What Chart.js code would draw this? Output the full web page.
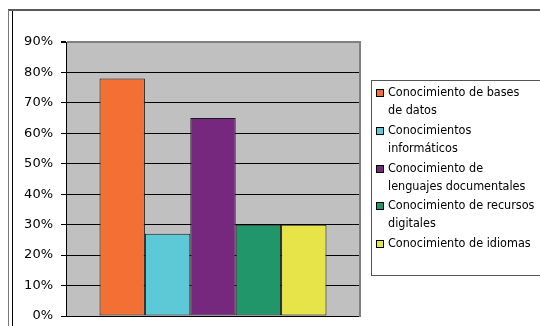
<!DOCTYPE html>
<html>
<head>
<meta charset="utf-8">
<style>
  html, body { margin: 0; padding: 0; background: #fff; }
  #wrap { position: relative; width: 540px; height: 326px; overflow: hidden; }
  canvas { display: block; }
</style>
<script src="https://cdn.jsdelivr.net/npm/chart.js@4/dist/chart.umd.min.js"></script>
</head>
<body>
<div id="wrap"><canvas id="chart" width="540" height="326"></canvas></div>
<script>
// One category, five competences shown side by side
const categories = [''];

const seriesNames = [
  ['Conocimiento de bases', 'de datos'],
  ['Conocimientos', 'informáticos'],
  ['Conocimiento de', 'lenguajes documentales'],
  ['Conocimiento de recursos', 'digitales'],
  ['Conocimiento de idiomas']
];

const basesDatos = [0.78];
const informaticos = [0.27];
const lenguajesDoc = [0.65];
const recursosDig = [0.30];
const idiomas = [0.30];

const seriesValues = [basesDatos, informaticos, lenguajesDoc, recursosDig, idiomas];
const seriesColors = ['#F37034', '#5DC8D6', '#76287F', '#21966B', '#E6E449'];

const tickLabels = ['0%', '10%', '20%', '30%', '40%', '50%', '60%', '70%', '80%', '90%'];

const FONT_TICKS = "Tahoma, 'DejaVu Sans', sans-serif";
const FONT_LEGEND = "12.5px Tahoma, 'DejaVu Sans Condensed', 'DejaVu Sans', sans-serif";

// Outer chart frame and the plot-area background
const framePlugin = {
  id: 'frame',
  beforeDraw(chart) {
    const ctx = chart.ctx;
    const a = chart.chartArea;
    ctx.save();
    ctx.fillStyle = '#C0C0C0';
    ctx.fillRect(a.left, a.top, a.right - a.left, a.bottom - a.top);
    ctx.strokeStyle = '#5a5a5a';
    ctx.lineWidth = 2;
    ctx.beginPath();
    ctx.moveTo(8, 10); ctx.lineTo(540, 10);
    ctx.stroke();
    ctx.lineWidth = 1;
    ctx.strokeStyle = '#777';
    ctx.beginPath();
    ctx.moveTo(8.5, 10); ctx.lineTo(8.5, 326);
    ctx.stroke();
    ctx.strokeStyle = '#000';
    ctx.beginPath();
    ctx.moveTo(12.5, 11); ctx.lineTo(12.5, 326);
    ctx.stroke();
    ctx.restore();
  },
  afterDatasetsDraw(chart) {
    const ctx = chart.ctx;
    const a = chart.chartArea;
    ctx.save();
    ctx.strokeStyle = '#808080';
    ctx.lineWidth = 2;
    ctx.beginPath();
    ctx.moveTo(a.right, a.top - 1); ctx.lineTo(a.right, a.bottom + 1);
    ctx.stroke();
    ctx.restore();
  }
};

// Boxed legend on the right with wrapped labels
const sideLegend = {
  id: 'sideLegend',
  afterDraw(chart) {
    const ctx = chart.ctx;
    ctx.save();
    ctx.fillStyle = '#fff';
    ctx.fillRect(371, 80, 200, 196);
    ctx.strokeStyle = '#555';
    ctx.lineWidth = 1;
    ctx.strokeRect(371.5, 80.5, 200, 195);
    ctx.font = FONT_LEGEND;
    ctx.textBaseline = 'middle';
    ctx.textAlign = 'left';
    chart.data.datasets.forEach((ds, i) => {
      const y0 = Math.round(93 + i * 37.8);
      ctx.fillStyle = ds.backgroundColor;
      ctx.fillRect(376, y0 - 4, 8, 8);
      ctx.strokeStyle = '#000';
      ctx.strokeRect(376.5, y0 - 3.5, 7, 7);
      ctx.fillStyle = '#000';
      ds.legendLines.forEach((t, j) => ctx.fillText(t, 388, y0 + j * 18));
    });
    ctx.restore();
  }
};

const datasets = seriesValues.map((vals, i) => ({
  label: seriesNames[i].join(' '),
  legendLines: seriesNames[i],
  data: vals,
  backgroundColor: seriesColors[i],
  borderColor: '#1a1a1a',
  borderWidth: 1,
  borderSkipped: false,
  categoryPercentage: 0.772,
  barPercentage: 1.0
}));

new Chart(document.getElementById('chart'), {
  type: 'bar',
  data: { labels: categories, datasets: datasets },
  options: {
    responsive: false,
    animation: false,
    devicePixelRatio: 1,
    layout: { padding: { left: 0, top: 42, right: 180, bottom: 10 } },
    plugins: { legend: { display: false }, tooltip: { enabled: false } },
    scales: {
      x: { display: false },
      y: {
        min: 0,
        max: 0.9,
        afterFit(scale) {
          scale.width = 66;
          scale.paddingTop = 0;
          scale.paddingBottom = 0;
        },
        ticks: {
          stepSize: 0.1,
          color: '#000',
          padding: 8,
          font: { family: FONT_TICKS, size: 13 },
          callback: (v, idx) => tickLabels[idx]
        },
        grid: {
          color: (c) => (c.index === tickLabels.length - 1 ? '#808080' : '#000'),
          lineWidth: (c) => (c.index === tickLabels.length - 1 ? 2 : 1),
          tickColor: '#000',
          tickLength: 5
        },
        border: { display: true, color: '#000', width: 1 }
      }
    }
  },
  plugins: [framePlugin, sideLegend]
});
</script>
</body>
</html>
